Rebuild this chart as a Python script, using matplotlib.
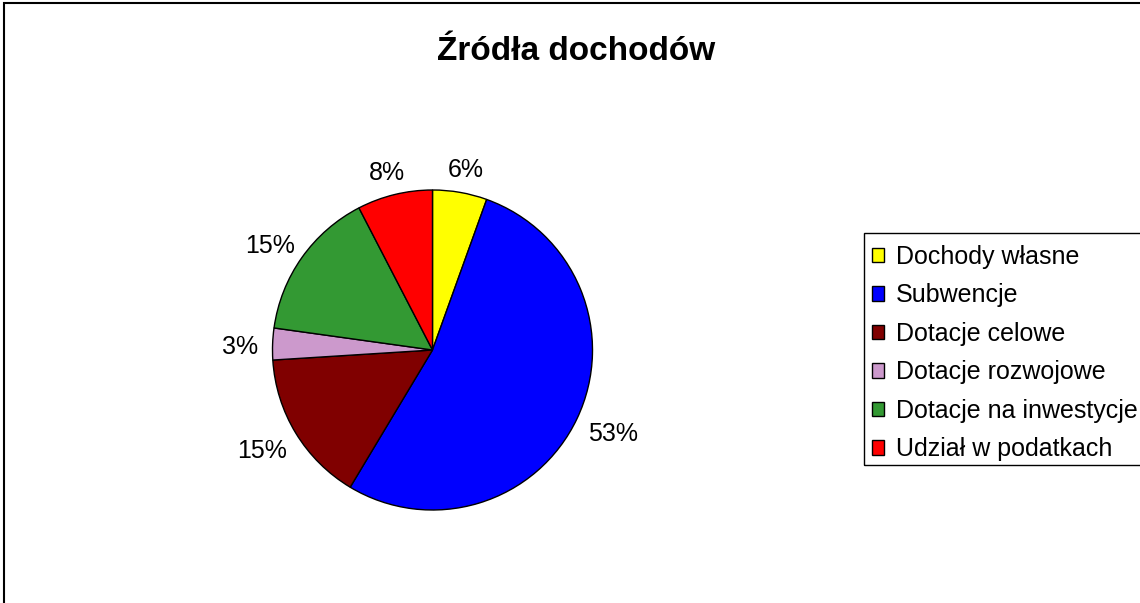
import numpy as np
import matplotlib
matplotlib.use("Agg")
import matplotlib.pyplot as plt
from matplotlib.patches import Rectangle

plt.rcParams['font.family'] = ['Liberation Sans', 'DejaVu Sans']

categories = ["Dochody własne", "Subwencje", "Dotacje celowe",
              "Dotacje rozwojowe", "Dotacje na inwestycje", "Udział w podatkach"]
values = [5.5, 53.1, 15.4, 3.2, 15.2, 7.6]
colors = ["#FFFF00", "#0000FF", "#800000", "#CC99CC", "#339933", "#FF0000"]
title = "Źródła dochodów"

W, H = 1140, 603
fig = plt.figure(figsize=(W / 100, H / 100), dpi=100)
fig.patch.set_facecolor("white")

# outer chart frame (extends past right and bottom edge)
fig.patches.append(Rectangle((3.5 / W, -0.1), 1.2, 1 - 3.5 / H + 0.1,
                             transform=fig.transFigure, fill=False,
                             edgecolor="black", linewidth=1.5))
# legend frame (extends past right edge)
fig.patches.append(Rectangle((863.5 / W, 1 - 465 / H), 0.3, 232 / H,
                             transform=fig.transFigure, fill=False,
                             edgecolor="black", linewidth=1.0, zorder=5))

ax = fig.add_axes([0, 0, 1, 1])
ax.set_xlim(0, W)
ax.set_ylim(0, H)
ax.set_aspect("equal")
ax.axis("off")

cx, cy, R = 432.5, H - 350, 160
wedges, _ = ax.pie(values, colors=colors, startangle=90, counterclock=False,
                   center=(cx, cy), radius=R,
                   wedgeprops=dict(edgecolor="black", linewidth=1.0))
ax.set_xlim(0, W)
ax.set_ylim(0, H)

total = sum(values)
renderer = fig.canvas.get_renderer()
for w, v in zip(wedges, values):
    mid = np.deg2rad((w.theta1 + w.theta2) / 2)
    t = ax.text(0, 0, f"{v / total * 100:.0f}%", fontsize=18,
                ha="center", va="center")
    bb = t.get_window_extent(renderer)
    hw, hh = bb.width / 2, bb.height / 2
    k = 1.09
    x = cx + R * k * np.cos(mid) + hw * np.cos(mid)
    y = cy + R * k * np.sin(mid) + hh * np.sin(mid) - 4
    t.set_position((x, y))

fig.text(576 / W, 1 - 51 / H, title, fontsize=24, fontweight="bold",
         ha="center", va="center")

leg = fig.legend(wedges, categories, loc="upper left",
                 bbox_to_anchor=(863 / W, 1 - 236 / H),
                 fontsize=18, frameon=False,
                 handlelength=0.5, handleheight=0.5,
                 handletextpad=0.45, labelspacing=0.58, borderpad=0.35,
                 borderaxespad=0)
for p in leg.get_patches():
    p.set_edgecolor("black")
    p.set_linewidth(1.0)

fig.savefig("out.png", dpi=100, facecolor="white")
